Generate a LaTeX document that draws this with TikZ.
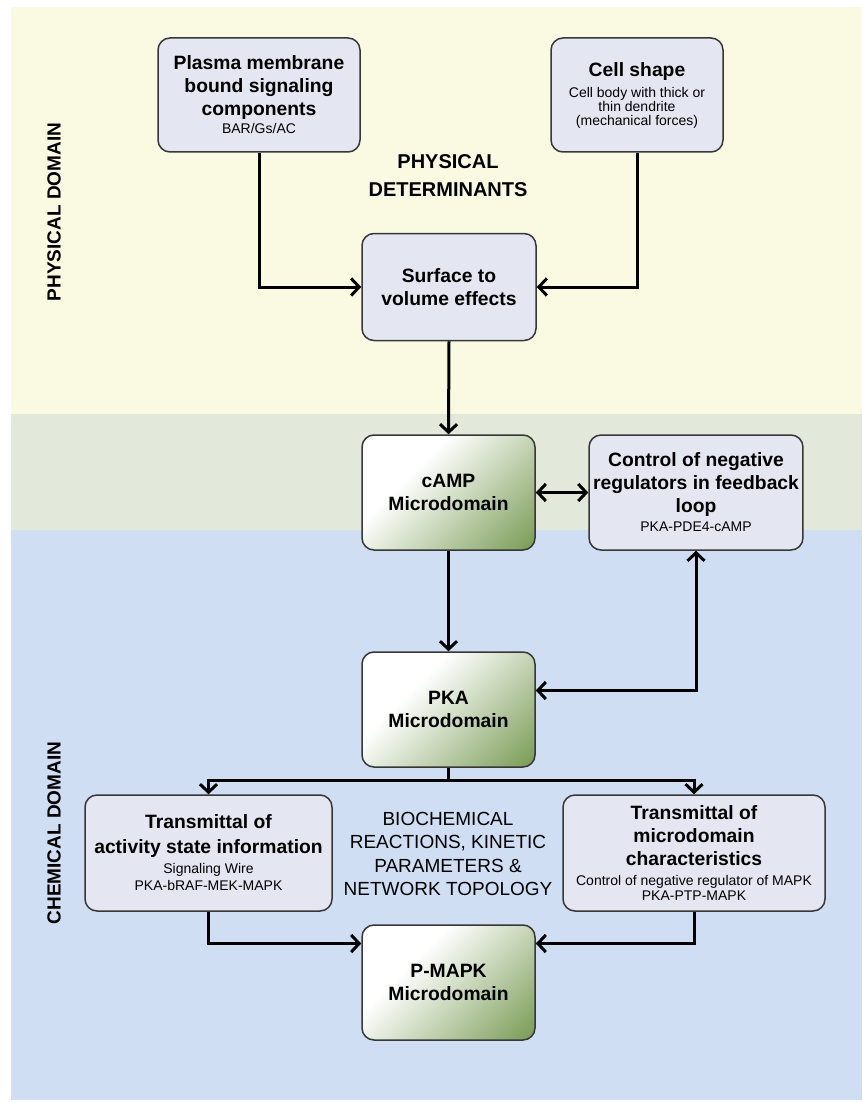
\documentclass[tikz,border=0pt]{standalone}
\usepackage{fontspec}
\setmainfont{Liberation Sans}
\usetikzlibrary{arrows.meta}
\definecolor{physbg}{RGB}{250,250,227}
\definecolor{regbg}{RGB}{226,232,218}
\definecolor{chembg}{RGB}{207,222,243}
\definecolor{boxfill}{RGB}{228,230,242}
\definecolor{boxline}{RGB}{55,55,55}
\definecolor{microgreen}{RGB}{80,125,32}
\pgfdeclarehorizontalshading{microshade}{100bp}{color(0bp)=(white); color(36bp)=(white); color(100bp)=(microgreen)}
\newcommand{\subtxt}[1]{{\fontsize{14}{16}\selectfont\mdseries #1}}
\tikzset{
  box/.style={draw=boxline, line width=1.5pt, rounded corners=12pt, fill=boxfill,
    align=center, inner sep=4pt, font=\fontsize{19.3}{23}\selectfont\bfseries},
  microbox/.style={box, shade, shading=microshade, shading angle=-45},
  flow/.style={line width=3pt, -{Straight Barb[length=8pt,width=17pt]}},
  twoway/.style={line width=3pt, {Straight Barb[length=8pt,width=17pt]}-{Straight Barb[length=8pt,width=17pt]}},
  domainlabel/.style={rotate=90, font=\fontsize{19}{22}\selectfont\bfseries}
}
\begin{document}
\begin{tikzpicture}[x=1pt, y=-1pt]
\useasboundingbox (0,0) rectangle (862,1102);
% background bands
\fill[physbg] (11,7) rectangle (862,414);
\fill[regbg] (11,414) rectangle (862,530);
\fill[chembg] (11,530) rectangle (862,1100);
\node[domainlabel] (physlab) at (54,212) {PHYSICAL DOMAIN};
\node[domainlabel] (chemlab) at (54,833) {CHEMICAL DOMAIN};
% physical domain
\node[box, minimum width=202pt, minimum height=114pt] (plasma) at (259,95)
  {Plasma membrane\\bound signaling\\components\\[-5pt]\subtxt{BAR/Gs/AC}};
\node[box, minimum width=172pt, minimum height=114pt] (cell) at (637,95)
  {Cell shape\\[-2pt]\subtxt{Cell body with thick or}\\[-9pt]\subtxt{thin dendrite}\\[-9pt]\subtxt{(mechanical forces)}};
\node[align=center, font=\fontsize{20}{28}\selectfont\bfseries] (physdet) at (448,176) {PHYSICAL\\DETERMINANTS};
\node[box, minimum width=174pt, minimum height=107pt] (surface) at (449,287) {Surface to\\volume effects};
\draw[flow] (plasma.south) |- (surface.west);
\draw[flow] (cell.south) |- (surface.east);
% chemical domain
\node[microbox, minimum width=173pt, minimum height=115pt] (camp) at (448.5,492.5) {cAMP\\Microdomain};
\node[box, minimum width=208pt, minimum height=115pt] (control) at (696,492.5)
  {Control of negative\\regulators in feedback\\loop\\[-4pt]\subtxt{PKA-PDE4-cAMP}};
\node[microbox, minimum width=173pt, minimum height=115pt] (pka) at (448.5,709.5) {PKA\\Microdomain};
\draw[flow] (surface.south) -- (camp.north);
\draw[twoway] (camp.east) -- (control.west);
\draw[flow] (camp.south) -- (pka.north);
\draw[twoway] (control.south) |- ([yshift=19pt]pka.east);
\node[box, minimum width=247pt, minimum height=116pt] (transact) at (208.5,853)
  {Transmittal of\\[2pt]activity state information\\[-3pt]\subtxt{Signaling Wire}\\[-6pt]\subtxt{PKA-bRAF-MEK-MAPK}};
\node[align=center, font=\fontsize{19}{23.5}\selectfont] (biochem) at (448,854)
  {BIOCHEMICAL\\REACTIONS, KINETIC\\PARAMETERS \&\\NETWORK TOPOLOGY};
\node[box, minimum width=262pt, minimum height=116pt] (transmicro) at (694,853)
  {Transmittal of\\microdomain\\characteristics\\[-3pt]\subtxt{Control of negative regulator of MAPK}\\[-8pt]\subtxt{PKA-PTP-MAPK}};
\node[microbox, minimum width=173pt, minimum height=115pt] (pmapk) at (448.5,982.5) {P-MAPK\\Microdomain};
\coordinate (split) at ([yshift=-13pt]pka.south);
\draw[flow] (pka.south) -- (split) -| (transact.north);
\draw[flow] (split) -| (transmicro.north);
\draw[flow] (transact.south) |- ([yshift=39pt]pmapk.west);
\draw[flow] (transmicro.south) |- ([yshift=39pt]pmapk.east);
\end{tikzpicture}
\end{document}
